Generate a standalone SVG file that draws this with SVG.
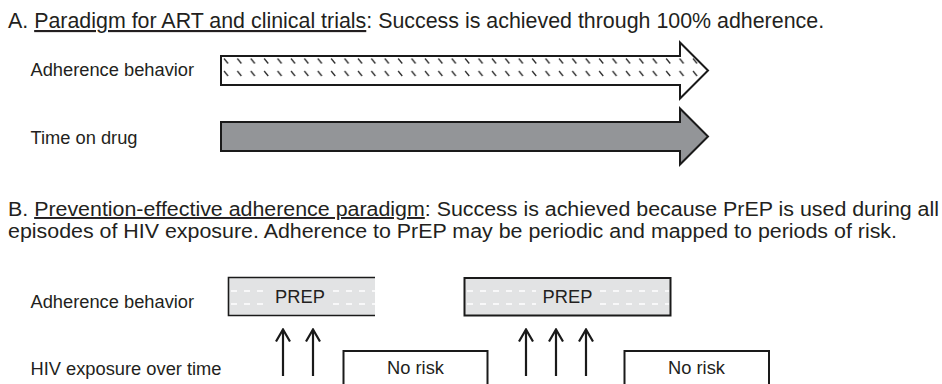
<svg xmlns="http://www.w3.org/2000/svg" width="942" height="384" viewBox="0 0 942 384">
  <style>
    text { font-family: "Liberation Sans", Arial, sans-serif; fill: #231f20; }
    .title { font-size: 21.4px; }
    .titleB { font-size: 19.5px; }
    .lbl { font-size: 18.3px; }
    .box { font-size: 18.3px; text-anchor: middle; }
    .ul { text-decoration: underline; }
    .outline { stroke: #1a1a1a; stroke-width: 2; stroke-linejoin: miter; }
    .dash { stroke: #ffffff; stroke-width: 1.6; stroke-dasharray: 6 7; fill: none; }
    .nr { fill: #ffffff; stroke: #1a1a1a; stroke-width: 2; }
    .up { stroke: #1a1a1a; stroke-width: 2.2; fill: none; }
  </style>
  <defs>
    <pattern id="hatch" patternUnits="userSpaceOnUse" x="222" y="0" width="13.4" height="384">
      <line x1="2" y1="58.5" x2="6" y2="63.5" stroke="#2e2e2e" stroke-width="1.3"/>
      <line x1="2" y1="71" x2="6" y2="76" stroke="#2e2e2e" stroke-width="1.3"/>
    </pattern>
    <marker id="chev" viewBox="0 0 16 14" refX="8" refY="1.5" markerWidth="16" markerHeight="14" markerUnits="userSpaceOnUse" orient="0">
      <path d="M1,13.5 L8,1.5 L15,13.5" fill="none" stroke="#1a1a1a" stroke-width="2.2"/>
    </marker>
  </defs>
  <rect width="942" height="384" fill="#ffffff"/>

  <!-- Section A -->
  <g id="titleA">
    <text class="title" x="8" y="28">A. <tspan class="ul">Paradigm for ART and clinical trials</tspan>: Success is achieved through 100% adherence.</text>
  </g>
  <g id="labelA1"><text class="lbl" x="30.5" y="76">Adherence behavior</text></g>
  <g id="labelA2"><text class="lbl" x="30.5" y="144">Time on drug</text></g>
  <g id="arrowAdherence">
    <path class="outline" fill="#ffffff" d="M221,56 H680 V42.5 L708,70.5 L680,98.5 V85 H221 Z"/>
    <path fill="url(#hatch)" d="M222,57 H681 V45 L706.5,70.5 L681,96 V84 H222 Z"/>
  </g>
  <g id="arrowTime">
    <path class="outline" fill="#939598" d="M221,122 H680 V108.5 L708,136.5 L680,164.5 V151 H221 Z"/>
  </g>

  <!-- Section B -->
  <g id="titleB">
    <text class="titleB" x="8" y="216" textLength="931" lengthAdjust="spacingAndGlyphs">B. <tspan class="ul">Prevention-effective adherence paradigm</tspan>: Success is achieved because PrEP is used during all</text>
    <text class="titleB" x="8" y="238" textLength="889" lengthAdjust="spacingAndGlyphs">episodes of HIV exposure. Adherence to PrEP may be periodic and mapped to periods of risk.</text>
  </g>
  <g id="labelB1"><text class="lbl" x="30.5" y="308">Adherence behavior</text></g>
  <g id="labelB2"><text class="lbl" x="30.5" y="375">HIV exposure over time</text></g>

  <g id="prep1">
    <rect x="228.5" y="277.5" width="146.5" height="38" fill="#e2e3e4"/>
    <path d="M375,277.5 H228.5 V315.5 H375" fill="none" stroke="#1a1a1a" stroke-width="1.6"/>
    <path class="dash" d="M231,291 H268 M333,291 H375 M231,304 H268 M333,304 H375"/>
    <text class="box" x="300" y="303">PREP</text>
  </g>
  <g id="prep2">
    <rect x="464.5" y="278" width="206" height="37.5" fill="#e2e3e4" stroke="#1a1a1a" stroke-width="2"/>
    <path class="dash" d="M467,291 H536 M600,291 H669 M467,304 H536 M600,304 H669"/>
    <text class="box" x="567.5" y="303">PREP</text>
  </g>
  <g id="norisk1">
    <rect class="nr" x="343.5" y="351" width="144" height="60"/>
    <text class="box" x="415.5" y="374">No risk</text>
  </g>
  <g id="norisk2">
    <rect class="nr" x="624.5" y="351" width="144.5" height="60"/>
    <text class="box" x="696.5" y="374">No risk</text>
  </g>

  <g id="connectors">
    <line class="up" x1="283" y1="376" x2="283" y2="329.5" marker-end="url(#chev)"/>
    <line class="up" x1="313" y1="376" x2="313" y2="329.5" marker-end="url(#chev)"/>
    <line class="up" x1="526" y1="376" x2="526" y2="329.5" marker-end="url(#chev)"/>
    <line class="up" x1="556" y1="376" x2="556" y2="329.5" marker-end="url(#chev)"/>
    <line class="up" x1="586" y1="376" x2="586" y2="329.5" marker-end="url(#chev)"/>
  </g>
</svg>
